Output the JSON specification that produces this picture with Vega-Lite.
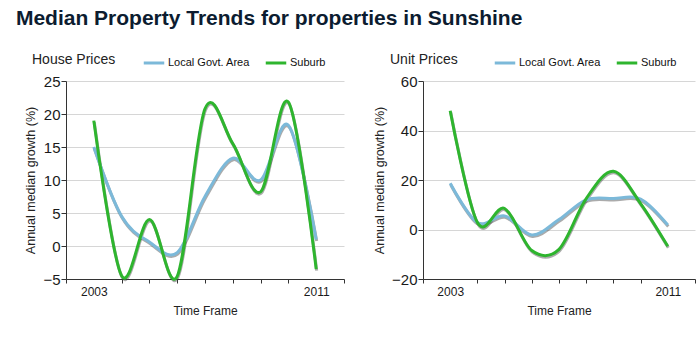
{
  "$schema": "https://vega.github.io/schema/vega-lite/v6.json",
  "background": "white",
  "padding": {"left": 15, "top": 8, "right": 0, "bottom": 0},
  "title": {"text": "Median Property Trends for properties in Sunshine", "anchor": "start", "font": "Liberation Sans", "fontSize": 21, "fontWeight": "bold", "color": "#0c1c30", "dx": -9, "offset": 22},
  "datasets": {
    "trends": [
      {"panel": "House", "series": "Local Govt. Area", "year": 2003, "value": 15},
      {"panel": "House", "series": "Local Govt. Area", "year": 2004, "value": 4.5},
      {"panel": "House", "series": "Local Govt. Area", "year": 2005, "value": 0.6},
      {"panel": "House", "series": "Local Govt. Area", "year": 2006, "value": -1},
      {"panel": "House", "series": "Local Govt. Area", "year": 2007, "value": 7.5},
      {"panel": "House", "series": "Local Govt. Area", "year": 2008, "value": 13.3},
      {"panel": "House", "series": "Local Govt. Area", "year": 2009, "value": 10},
      {"panel": "House", "series": "Local Govt. Area", "year": 2010, "value": 18.3},
      {"panel": "House", "series": "Local Govt. Area", "year": 2011, "value": 1},
      {"panel": "House", "series": "Suburb", "year": 2003, "value": 19},
      {"panel": "House", "series": "Suburb", "year": 2004, "value": -4.5},
      {"panel": "House", "series": "Suburb", "year": 2005, "value": 4},
      {"panel": "House", "series": "Suburb", "year": 2006, "value": -4.6},
      {"panel": "House", "series": "Suburb", "year": 2007, "value": 20.8},
      {"panel": "House", "series": "Suburb", "year": 2008, "value": 15.5},
      {"panel": "House", "series": "Suburb", "year": 2009, "value": 8.2},
      {"panel": "House", "series": "Suburb", "year": 2010, "value": 21.8},
      {"panel": "House", "series": "Suburb", "year": 2011, "value": -3.5},
      {"panel": "Unit", "series": "Local Govt. Area", "year": 2003, "value": 18.7},
      {"panel": "Unit", "series": "Local Govt. Area", "year": 2004, "value": 2.8},
      {"panel": "Unit", "series": "Local Govt. Area", "year": 2005, "value": 5.5},
      {"panel": "Unit", "series": "Local Govt. Area", "year": 2006, "value": -2.2},
      {"panel": "Unit", "series": "Local Govt. Area", "year": 2007, "value": 4},
      {"panel": "Unit", "series": "Local Govt. Area", "year": 2008, "value": 12},
      {"panel": "Unit", "series": "Local Govt. Area", "year": 2009, "value": 12.5},
      {"panel": "Unit", "series": "Local Govt. Area", "year": 2010, "value": 12.3},
      {"panel": "Unit", "series": "Local Govt. Area", "year": 2011, "value": 1.8},
      {"panel": "Unit", "series": "Suburb", "year": 2003, "value": 48},
      {"panel": "Unit", "series": "Suburb", "year": 2004, "value": 2.8},
      {"panel": "Unit", "series": "Suburb", "year": 2005, "value": 8.5},
      {"panel": "Unit", "series": "Suburb", "year": 2006, "value": -8.5},
      {"panel": "Unit", "series": "Suburb", "year": 2007, "value": -8},
      {"panel": "Unit", "series": "Suburb", "year": 2008, "value": 12.5},
      {"panel": "Unit", "series": "Suburb", "year": 2009, "value": 23.5},
      {"panel": "Unit", "series": "Suburb", "year": 2010, "value": 10.5},
      {"panel": "Unit", "series": "Suburb", "year": 2011, "value": -6.8}
    ]
  },
  "data": {"name": "trends"},
  "spacing": 28,
  "resolve": {"scale": {"color": "independent", "x": "independent", "y": "independent"}},
  "hconcat": [
    {
      "width": 278,
      "height": 198,
      "title": {"text": "House Prices", "anchor": "start", "frame": "group", "dx": -34, "fontSize": 14, "fontWeight": "normal", "font": "Liberation Sans", "color": "#222222", "offset": -16},
      "transform": [{"filter": "datum.panel == 'House'"}],
      "encoding": {
        "x": {"field": "year", "type": "quantitative", "scale": {"domain": [2002, 2012], "nice": false, "zero": false},
          "axis": {"values": [2002, 2003, 2004, 2005, 2006, 2007, 2008, 2009, 2010, 2011, 2012], "format": "d", "labelExpr": "datum.value == 2003 || datum.value == 2011 ? datum.label : ''", "labelOverlap": false, "labelFlush": false, "grid": false, "title": "Time Frame",
            "tickOpacity": {"condition": {"test": "datum.value == 2003 || datum.value == 2011", "value": 0}, "value": 1}}},
        "y": {"field": "value", "type": "quantitative", "scale": {"domain": [-5, 25], "nice": false, "zero": false},
          "axis": {"values": [-5, 0, 5, 10, 15, 20, 25], "title": "Annual median growth (%)", "grid": true}}
      },
      "layer": [
        {"mark": {"type": "line", "interpolate": "cardinal", "strokeWidth": 3, "color": "#444444", "opacity": 0.45, "xOffset": 0.5, "yOffset": 1.5},
          "encoding": {"detail": {"field": "series"}}},
        {"mark": {"type": "line", "interpolate": "cardinal", "strokeWidth": 3},
          "encoding": {"color": {"field": "series", "type": "nominal", "scale": {"domain": ["Local Govt. Area", "Suburb"], "range": ["#7cb9d9", "#2eb52e"]},
            "legend": {"orient": "none", "legendX": 76, "legendY": -30, "direction": "horizontal", "title": null, "symbolType": "stroke", "symbolStrokeWidth": 3, "symbolSize": 420, "labelFontSize": 11, "labelFont": "Liberation Sans", "labelColor": "#111111", "columnPadding": 9, "labelOffset": 2}}}}
      ]
    },
    {
      "width": 272,
      "height": 198,
      "title": {"text": "Unit Prices", "anchor": "start", "frame": "group", "dx": -33, "fontSize": 14, "fontWeight": "normal", "font": "Liberation Sans", "color": "#222222", "offset": -16},
      "transform": [{"filter": "datum.panel == 'Unit'"}],
      "encoding": {
        "x": {"field": "year", "type": "quantitative", "scale": {"domain": [2002, 2012], "nice": false, "zero": false},
          "axis": {"values": [2002, 2003, 2004, 2005, 2006, 2007, 2008, 2009, 2010, 2011, 2012], "format": "d", "labelExpr": "datum.value == 2003 || datum.value == 2011 ? datum.label : ''", "labelOverlap": false, "labelFlush": false, "grid": false, "title": "Time Frame",
            "tickOpacity": {"condition": {"test": "datum.value == 2003 || datum.value == 2011", "value": 0}, "value": 1}}},
        "y": {"field": "value", "type": "quantitative", "scale": {"domain": [-20, 60], "nice": false, "zero": false},
          "axis": {"values": [-20, 0, 20, 40, 60], "title": "Annual median growth (%)", "grid": true}}
      },
      "layer": [
        {"mark": {"type": "line", "interpolate": "cardinal", "strokeWidth": 3, "color": "#444444", "opacity": 0.45, "xOffset": 0.5, "yOffset": 1.5},
          "encoding": {"detail": {"field": "series"}}},
        {"mark": {"type": "line", "interpolate": "cardinal", "strokeWidth": 3},
          "encoding": {"color": {"field": "series", "type": "nominal", "scale": {"domain": ["Local Govt. Area", "Suburb"], "range": ["#7cb9d9", "#2eb52e"]},
            "legend": {"orient": "none", "legendX": 70, "legendY": -30, "direction": "horizontal", "title": null, "symbolType": "stroke", "symbolStrokeWidth": 3, "symbolSize": 420, "labelFontSize": 11, "labelFont": "Liberation Sans", "labelColor": "#111111", "columnPadding": 9, "labelOffset": 2}}}}
      ]
    }
  ],
  "config": {
    "view": {"stroke": null},
    "axis": {"domainColor": "#333333", "tickColor": "#333333", "labelFont": "Liberation Sans", "titleFont": "Liberation Sans", "titleFontWeight": "normal", "labelColor": "#1a1a1a", "titleColor": "#222222", "gridColor": "#d6d6d6"},
    "axisY": {"labelFontSize": 15, "tickSize": 5, "labelPadding": 1, "titleFontSize": 12.5, "titlePadding": 5},
    "axisX": {"labelFontSize": 12, "tickSize": 4, "labelPadding": 3, "titleFontSize": 12, "titlePadding": 8}
  }
}
